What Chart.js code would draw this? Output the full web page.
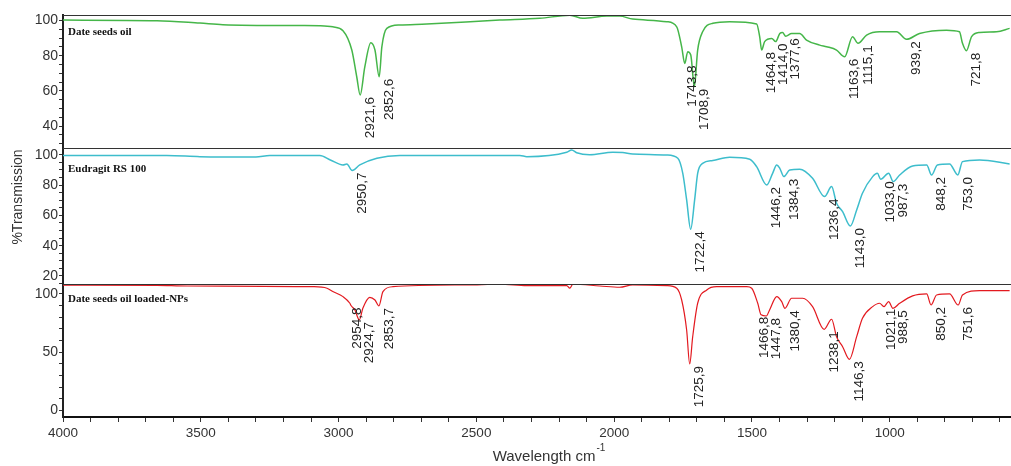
<!DOCTYPE html>
<html>
<head>
<meta charset="utf-8">
<title>FTIR spectra</title>
<script src="https://cdn.jsdelivr.net/npm/chart.js@4.4.1/dist/chart.umd.min.js"></script>
<style>
  html, body { margin: 0; padding: 0; background: #fff; }
  #wrap { position: relative; width: 1011px; height: 466px; }
</style>
</head>
<body>
<div id="wrap"><canvas id="ftir"></canvas></div>
<script>
// ---- data ----
var panelNames = ['Date seeds oil', 'Eudragit RS 100', 'Date seeds oil loaded-NPs'];

// Date seeds oil
var oilWn = [4000, 3659, 3503, 3420, 3140, 3068, 3021, 2984, 2952, 2934, 2921.6, 2905, 2883, 2868, 2852.6, 2843, 2825, 2778, 2680, 2415,
  2270, 2161, 2114, 2027, 1980, 1933, 1809, 1773, 1755, 1743.8, 1733, 1722, 1708.9, 1697, 1679, 1642, 1581, 1483, 1472, 1464.8,
  1454, 1428, 1414.0, 1399, 1389, 1377.6, 1356, 1327, 1302, 1254, 1229, 1193, 1163.6, 1135, 1115.1, 1084, 1037, 975, 939.2, 892,
  794, 747, 736, 721.8, 703, 674, 612, 565];
var oilT = [100.2, 99.9, 98.5, 97.6, 97.1, 97.0, 96.4, 94.2, 83.2, 67.9, 57.7, 73.5, 87.3, 83.2, 68.0, 85.0, 95.5, 97.4, 98.0, 100.2,
  101.2, 103.0, 101.2, 102.5, 102.5, 100.8, 99.3, 96.4, 85.0, 75.6, 82.3, 80.4, 62.4, 83.2, 93.6, 98.4, 99.3, 98.0, 90.8, 83.2,
  88.0, 89.8, 88.0, 92.6, 93.2, 91.1, 92.6, 92.6, 88.9, 86.0, 85.1, 83.2, 79.4, 90.8, 87.0, 91.7, 93.6, 93.6, 89.3, 92.6,
  94.5, 93.6, 87.0, 82.8, 90.8, 93.2, 93.6, 95.5];
var oilPeaks = [2921.6, 2852.6, 1743.8, 1708.9, 1464.8, 1414.0, 1377.6, 1163.6, 1115.1, 939.2, 721.8];

// Eudragit RS 100
var eudWn = [4000, 3623, 3503, 3300, 3250, 3068, 3030, 2984, 2970, 2950.7, 2923, 2861, 2778, 2342, 2317, 2172, 2154, 2136, 2089, 2005,
  1969, 1933, 1809, 1769, 1751, 1737, 1722.4, 1708, 1697, 1679, 1642, 1581, 1508, 1483, 1446.2, 1425, 1410, 1399, 1384.3, 1363,
  1327, 1280, 1236.4, 1211, 1193, 1171, 1143.0, 1120, 1099, 1062, 1045, 1033.0, 1004, 987.3, 964, 917, 866, 848.2, 827, 783,
  753.0, 736, 674, 565];
var eudT = [99.5, 99.5, 98.8, 98.6, 99.5, 99.5, 96.6, 93.3, 94.0, 89.6, 93.3, 97.7, 99.5, 99.5, 98.8, 101.7, 103.2, 101.4, 100.1, 101.7,
  101.5, 100.6, 99.9, 97.7, 87.8, 70.2, 50.8, 70.2, 87.8, 94.4, 96.2, 98.4, 97.1, 92.2, 80.1, 87.8, 93.3, 91.1, 85.6, 90.0,
  90.5, 84.5, 72.4, 79.0, 68.0, 62.5, 53.0, 63.6, 74.6, 85.6, 87.8, 83.9, 87.8, 82.3, 86.7, 92.6, 93.3, 86.7, 93.3, 94.0,
  86.7, 95.5, 96.6, 94.0];
var eudPeaks = [2950.7, 1722.4, 1446.2, 1384.3, 1236.4, 1143.0, 1033.0, 987.3, 848.2, 753.0];

// Date seeds oil loaded-NPs
var npWn = [4000, 3659, 3550, 3093, 3042, 3021, 2984, 2959, 2954.8, 2941, 2924.7, 2912, 2887, 2868, 2853.7, 2839, 2803, 2535, 2415, 2317,
  2172, 2161, 2150, 2052, 1980, 1933, 1809, 1773, 1755, 1737, 1725.9, 1715, 1697, 1664, 1628, 1519, 1501, 1479, 1466.8, 1447.8,
  1436, 1410, 1392, 1380.4, 1356, 1316, 1280, 1238.1, 1211, 1193, 1171, 1146.3, 1120, 1099, 1062, 1037, 1021.1, 1004, 988.5, 964,
  917, 866, 850.2, 830, 783, 751.6, 736, 674, 565];
var npT = [107.5, 107.3, 106.7, 106.1, 104.8, 102.0, 97.6, 91.9, 90.0, 86.2, 77.6, 87.6, 97.0, 94.7, 89.6, 101.8, 106.1, 107.6, 108.2, 107.0,
  107.0, 104.8, 108.2, 106.7, 105.6, 107.6, 107.0, 104.8, 94.7, 69.0, 39.9, 63.3, 91.9, 103.3, 106.1, 106.1, 104.8, 91.9, 82.0, 81.0,
  86.2, 97.6, 93.3, 87.6, 96.2, 96.2, 89.0, 69.6, 78.2, 63.3, 54.7, 43.9, 63.3, 79.0, 89.0, 91.9, 89.0, 93.3, 87.6, 91.9,
  98.2, 99.9, 90.4, 99.0, 99.9, 90.4, 99.0, 102.7, 102.7];
var npPeaks = [2954.8, 2924.7, 2853.7, 1725.9, 1466.8, 1447.8, 1380.4, 1238.1, 1146.3, 1021.1, 988.5, 850.2, 751.6];

var xMin = 560, xMax = 4000, xMinor = 100, xMajor = 500;

// ---- helpers ----
var panels = [
  {name: panelNames[0], wn: oilWn, t: oilT, peaks: oilPeaks, axis: 'yTop', color: '#45b649', width: 1.5, nameDy: 17},
  {name: panelNames[1], wn: eudWn, t: eudT, peaks: eudPeaks, axis: 'yMid', color: '#3dbdcc', width: 1.5, nameDy: 21},
  {name: panelNames[2], wn: npWn, t: npT, peaks: npPeaks, axis: 'yBot', color: '#e3191f', width: 1.2, nameDy: 15}
];

function valueAt(wn, t, w) {
  for (var i = 0; i < wn.length - 1; i++) {
    if (wn[i] >= w && w >= wn[i + 1]) {
      var f = (wn[i] - w) / (wn[i] - wn[i + 1]);
      return t[i] + f * (t[i + 1] - t[i]);
    }
  }
  return t[t.length - 1];
}

function peakText(w) {
  return w.toFixed(1).replace('.', ',');
}

// tick marks on every multiple of step between the scale bounds
function fillTicks(s, step) {
  var out = [];
  for (var v = Math.ceil(s.min / step - 1e-9) * step; v <= s.max + 1e-9; v += step) {
    out.push({value: Math.round(v * 1000) / 1000});
  }
  s.ticks = out;
}

var tickFont = {family: "'Liberation Sans', Arial, sans-serif", size: 14};

function yAxis(min, max, minor, major, stackWeight, weight) {
  return {
    type: 'linear', position: 'left', stack: 'ftir', stackWeight: stackWeight, weight: weight,
    min: min, max: max,
    grid: {drawOnChartArea: false, drawTicks: true, tickLength: 4, tickColor: '#333'},
    border: {display: true, color: '#222', width: 2},
    ticks: {
      stepSize: minor, autoSkip: false, padding: 1, color: '#333', font: tickFont,
      callback: function (v) { return (Math.abs(v % major) < 1e-6) ? String(v) : ''; }
    },
    afterBuildTicks: function (s) { fillTicks(s, minor); },
    afterFit: function (s) { s.width = 63; s.paddingTop = 0; s.paddingBottom = 0; }
  };
}

var decor = {
  id: 'decor',
  afterDatasetsDraw: function (chart) {
    var ctx = chart.ctx, area = chart.chartArea, xs = chart.scales.x;
    ctx.save();

    // panel frames (top line of each panel)
    ctx.strokeStyle = '#333';
    ctx.lineWidth = 1;
    panels.forEach(function (p) {
      var y = Math.round(chart.scales[p.axis].top) + 0.5;
      ctx.beginPath();
      ctx.moveTo(area.left, y);
      ctx.lineTo(area.right, y);
      ctx.stroke();
    });

    // panel names
    ctx.fillStyle = '#111';
    ctx.font = "bold 11px 'Liberation Serif', 'Times New Roman', serif";
    ctx.textAlign = 'left';
    ctx.textBaseline = 'middle';
    panels.forEach(function (p) {
      ctx.fillText(p.name, area.left + 5, chart.scales[p.axis].top + p.nameDy);
    });

    // peak labels, rotated, reading upwards from just under each dip
    ctx.font = "13.5px 'Liberation Sans', Arial, sans-serif";
    ctx.fillStyle = '#222';
    panels.forEach(function (p) {
      var ys = chart.scales[p.axis];
      var marks = p.peaks.map(function (w) {
        return {w: w, px: xs.getPixelForValue(w), py: ys.getPixelForValue(valueAt(p.wn, p.t, w))};
      });
      marks.sort(function (a, b) { return a.px - b.px; });
      marks.forEach(function (m) { m.cx = m.px + 10; });
      for (var k = marks.length - 2; k >= 0; k--) {
        if (marks[k].cx > marks[k + 1].cx - 11) marks[k].cx = marks[k + 1].cx - 12;
      }
      marks.forEach(function (m) {
        ctx.save();
        ctx.translate(m.cx, m.py + 2);
        ctx.rotate(-Math.PI / 2);
        ctx.textAlign = 'right';
        ctx.textBaseline = 'middle';
        ctx.fillText(peakText(m.w), 0, 0);
        ctx.restore();
      });
    });

    // axis titles
    ctx.fillStyle = '#333';
    ctx.font = "14px 'Liberation Sans', Arial, sans-serif";
    ctx.save();
    ctx.translate(18, 197);
    ctx.rotate(-Math.PI / 2);
    ctx.textAlign = 'center';
    ctx.textBaseline = 'middle';
    ctx.fillText('%Transmission', 0, 0);
    ctx.restore();

    var main = 'Wavelength cm', sup = '-1';
    ctx.font = "15px 'Liberation Sans', Arial, sans-serif";
    var wMain = ctx.measureText(main).width;
    ctx.font = "10px 'Liberation Sans', Arial, sans-serif";
    var wSup = ctx.measureText(sup).width;
    var x0 = (area.left + area.right) / 2 + 12 - (wMain + wSup + 1) / 2;
    ctx.textAlign = 'left';
    ctx.textBaseline = 'middle';
    ctx.font = "15px 'Liberation Sans', Arial, sans-serif";
    ctx.fillText(main, x0, 457);
    ctx.font = "10px 'Liberation Sans', Arial, sans-serif";
    ctx.fillText(sup, x0 + wMain + 1, 448);

    ctx.restore();
  }
};

var datasets = panels.map(function (p) {
  return {
    label: p.name,
    data: p.wn.map(function (w, i) { return {x: w, y: p.t[i]}; }),
    yAxisID: p.axis,
    borderColor: p.color,
    borderWidth: p.width,
    pointRadius: 0,
    fill: false,
    cubicInterpolationMode: 'monotone'
  };
});

new Chart(document.getElementById('ftir'), {
  type: 'line',
  data: {datasets: datasets},
  options: {
    responsive: true,
    maintainAspectRatio: false,
    animation: false,
    layout: {padding: {top: 15, right: 0, bottom: 0, left: 0}},
    plugins: {legend: {display: false}, tooltip: {enabled: false}},
    scales: {
      x: {
        type: 'linear', position: 'bottom', reverse: true,
        min: xMin, max: xMax,
        grid: {drawOnChartArea: false, drawTicks: true, tickLength: 5, tickColor: '#333'},
        border: {display: true, color: '#111', width: 2},
        ticks: {
          stepSize: xMinor, autoSkip: false, maxRotation: 0, padding: 3, color: '#333',
          font: {family: "'Liberation Sans', Arial, sans-serif", size: 13.5},
          callback: function (v) { return (v % xMajor === 0) ? String(v) : ''; }
        },
        afterBuildTicks: function (s) { fillTicks(s, xMinor); },
        afterFit: function (s) { s.height = 49; s.paddingLeft = 0; s.paddingRight = 0; }
      },
      yTop: yAxis(27.6, 103.1, 5, 20, 133, 3),
      yMid: yAxis(14.7, 104.5, 5, 20, 136, 2),
      yBot: yAxis(-5.5, 108.4, 10, 50, 133, 1)
    }
  },
  plugins: [decor]
});
</script>
</body>
</html>
